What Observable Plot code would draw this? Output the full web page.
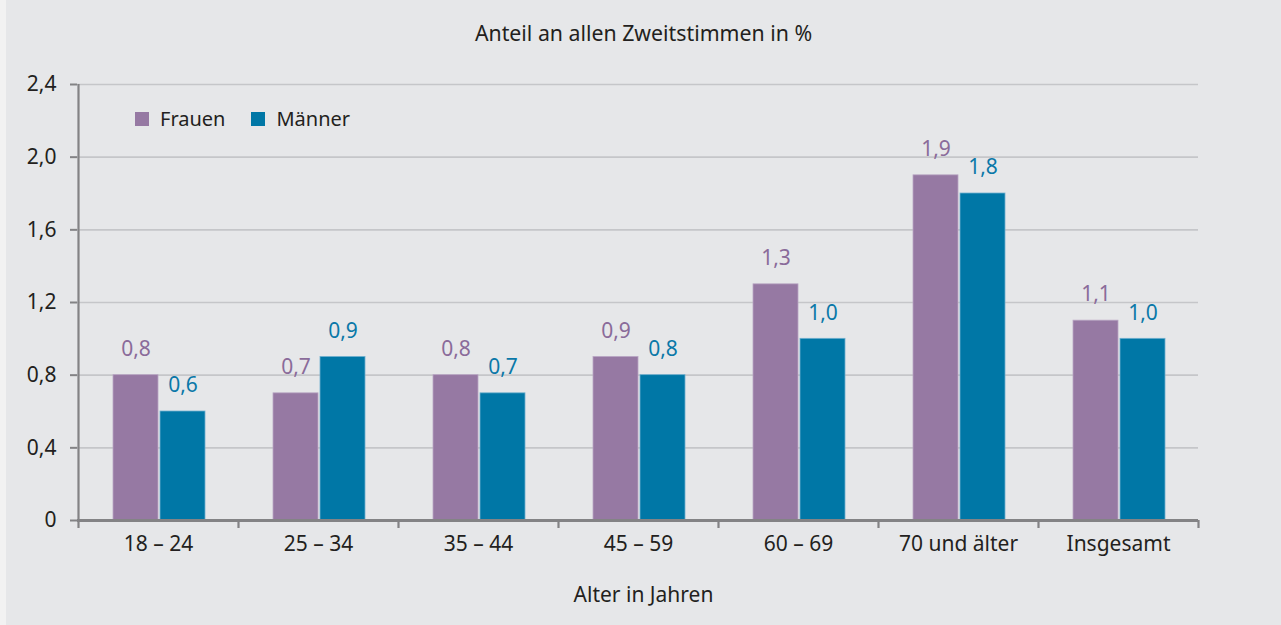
<!DOCTYPE html>
<html>
<head>
<meta charset="utf-8">
<script src="https://cdn.jsdelivr.net/npm/d3@7"></script>
<script src="https://cdn.jsdelivr.net/npm/@observablehq/plot@0.6"></script>
<style>
  html, body { margin: 0; padding: 0; background: #f2f2f2; }
  #wrap { position: relative; margin-left: 6px; width: 1275px; height: 625px; background: #e6e7e9;
          font-family: "Noto Sans", sans-serif; color: #231f20; }
  #title { height: 60px; box-sizing: border-box; padding-top: 21px; line-height: 24px; font-size: 21.3px; text-align: center; }
  #xlabel { line-height: 24px; padding-top: 17px; font-size: 21px; text-align: center; }
  #legend { position: absolute; left: 129px; top: 105px; font-size: 20px; display: flex; align-items: center; }
  #legend .sw { display: inline-block; width: 14px; height: 14px; margin-right: 11px; }
  #legend .item { display: flex; align-items: center; margin-right: 26px; }
  svg { display: block; }
</style>
</head>
<body>
<div id="wrap">
  <div id="title">Anteil an allen Zweitstimmen in %</div>
  <div id="chart"></div>
  <div id="xlabel">Alter in Jahren</div>
  <div id="legend"></div>
</div>
<script>
const categories = ["18 – 24", "25 – 34", "35 – 44", "45 – 59", "60 – 69", "70 und älter", "Insgesamt"];
const frauen = [0.8, 0.7, 0.8, 0.9, 1.3, 1.9, 1.1];
const maenner = [0.6, 0.9, 0.7, 0.8, 1.0, 1.8, 1.0];
const yTicks = [0, 0.4, 0.8, 1.2, 1.6, 2.0, 2.4];
const seriesNames = ["Frauen", "Männer"];
const colors = {Frauen: "#9679a3", "Männer": "#0077a6"};
const labelColors = {Frauen: "#8a6b9a", "Männer": "#0a78a8"};

const fmt = d => d === 0 ? "0" : d.toFixed(1).replace(".", ",");
const dataF = categories.map((c, i) => ({cat: c, value: frauen[i]}));
const dataM = categories.map((c, i) => ({cat: c, value: maenner[i]}));

const gray = "#838385";
const fs = 21;

const chart = Plot.plot({
  width: 1275,
  height: 505,
  marginTop: 24,
  marginBottom: 45,
  marginLeft: 71,
  marginRight: 83,
  style: {background: "transparent", fontFamily: "Noto Sans, sans-serif", fontSize: fs + "px", color: "#231f20"},
  x: {domain: categories, padding: 0, label: null},
  y: {domain: [0, 2.4], label: null},
  marks: [
    Plot.ruleY(yTicks.filter(d => d > 0), {y: d => d, stroke: "#c5c6c9", strokeWidth: 1.6}),
    Plot.barY(dataF, {x: "cat", y: "value", fill: colors.Frauen, insetLeft: 35, insetRight: 80,
      stroke: "#b9a6c4", strokeWidth: 0.8}),
    Plot.barY(dataM, {x: "cat", y: "value", fill: colors["Männer"], insetLeft: 82, insetRight: 33,
      stroke: "#6fb0cf", strokeWidth: 0.8}),
    Plot.text(dataF, {x: "cat", y: "value", text: d => fmt(d.value), dx: -22.5, dy: -26,
      fill: labelColors.Frauen, fontSize: fs}),
    Plot.text(dataM, {x: "cat", y: "value", text: d => fmt(d.value), dx: 24.5, dy: -26,
      fill: labelColors["Männer"], fontSize: fs}),
    Plot.axisY({ticks: yTicks, tickFormat: fmt, tickSize: 7, tickPadding: 14, stroke: gray,
      strokeWidth: 2, fontSize: fs, fill: "#231f20", label: null}),
    Plot.axisX({tickSize: 0, tickPadding: 16, fontSize: fs, fill: "#231f20", label: null}),
    Plot.axisX({tickSize: 8, tickFormat: () => "", dx: -80, stroke: gray, strokeWidth: 2.2, label: null}),
    Plot.axisX({ticks: [categories[categories.length - 1]], tickSize: 8, tickFormat: () => "", dx: 80,
      stroke: gray, strokeWidth: 2.2, label: null}),
    Plot.ruleX([categories[0]], {dx: -80, y1: 0, y2: 2.4, stroke: gray, strokeWidth: 2.2}),
    Plot.ruleY([0], {stroke: gray, strokeWidth: 3})
  ]
});
document.getElementById("chart").appendChild(chart);

const legend = document.getElementById("legend");
seriesNames.forEach(name => {
  const item = document.createElement("span");
  item.className = "item";
  const sw = document.createElement("span");
  sw.className = "sw";
  sw.style.background = colors[name];
  item.appendChild(sw);
  item.appendChild(document.createTextNode(name));
  legend.appendChild(item);
});
</script>
</body>
</html>
